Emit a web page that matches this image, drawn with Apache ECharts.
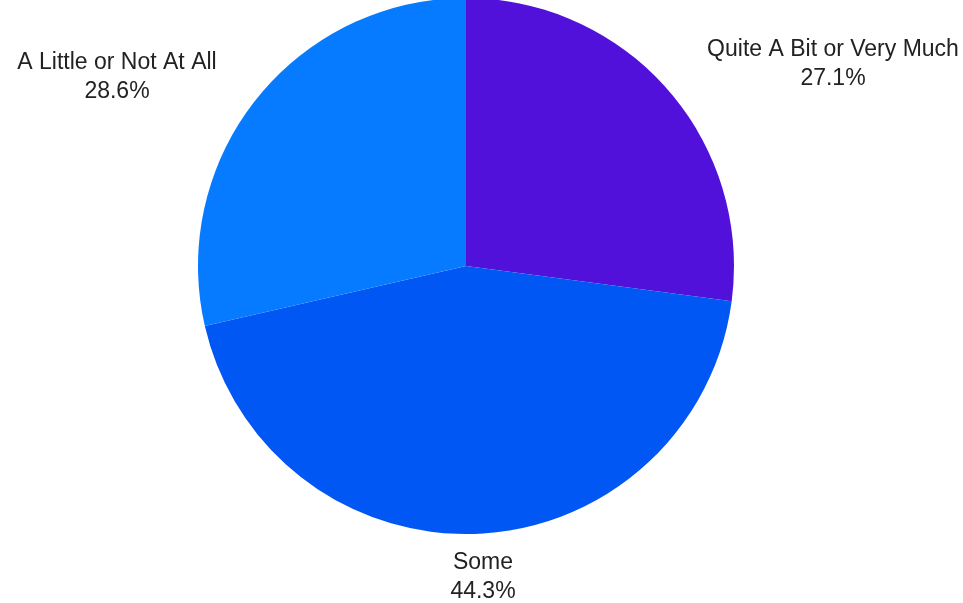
<!DOCTYPE html>
<html>
<head>
<meta charset="utf-8">
<script src="https://cdn.jsdelivr.net/npm/echarts@6/dist/echarts.min.js"></script>
<style>
  html, body { margin: 0; padding: 0; background: #fff; }
  #container { width: 963px; height: 603px; }
</style>
</head>
<body>
<div id="container"></div>
<script>
// 数据
var categories = ["Quite A Bit or Very Much", "Some", "A Little or Not At All"];
var values = [27.1, 44.3, 28.6];
var colors = ["#5211DA", "#0057F4", "#077BFF"];

// 标签位置 (label centres)
var labelPos = [[833, 64], [483, 577], [117, 77]];

var pieData = categories.map(function (name, i) {
    return { name: name, value: values[i], itemStyle: { color: colors[i] } };
});

var myChart = echarts.init(document.getElementById("container"));
myChart.setOption({
    animation: false,
    series: [{
        type: "pie",
        center: [466, 266],
        radius: [0, 268],
        startAngle: 90,
        clockwise: true,
        data: pieData,
        itemStyle: { borderWidth: 0 },
        label: {
            show: true,
            position: "outside",
            formatter: function (p) { return p.name + "\n" + p.value.toFixed(1) + "%"; },
            fontFamily: "Liberation Sans, Arial, sans-serif",
            fontSize: 23,
            lineHeight: 29,
            color: "#222",
            align: "center",
            overflow: "none",
            width: 320
        },
        labelLine: { show: false },
        labelLayout: function (params) {
            var p = labelPos[params.dataIndex];
            return { x: p[0], y: p[1], align: "center", verticalAlign: "middle" };
        },
        emphasis: { disabled: true }
    }]
});
</script>
</body>
</html>
